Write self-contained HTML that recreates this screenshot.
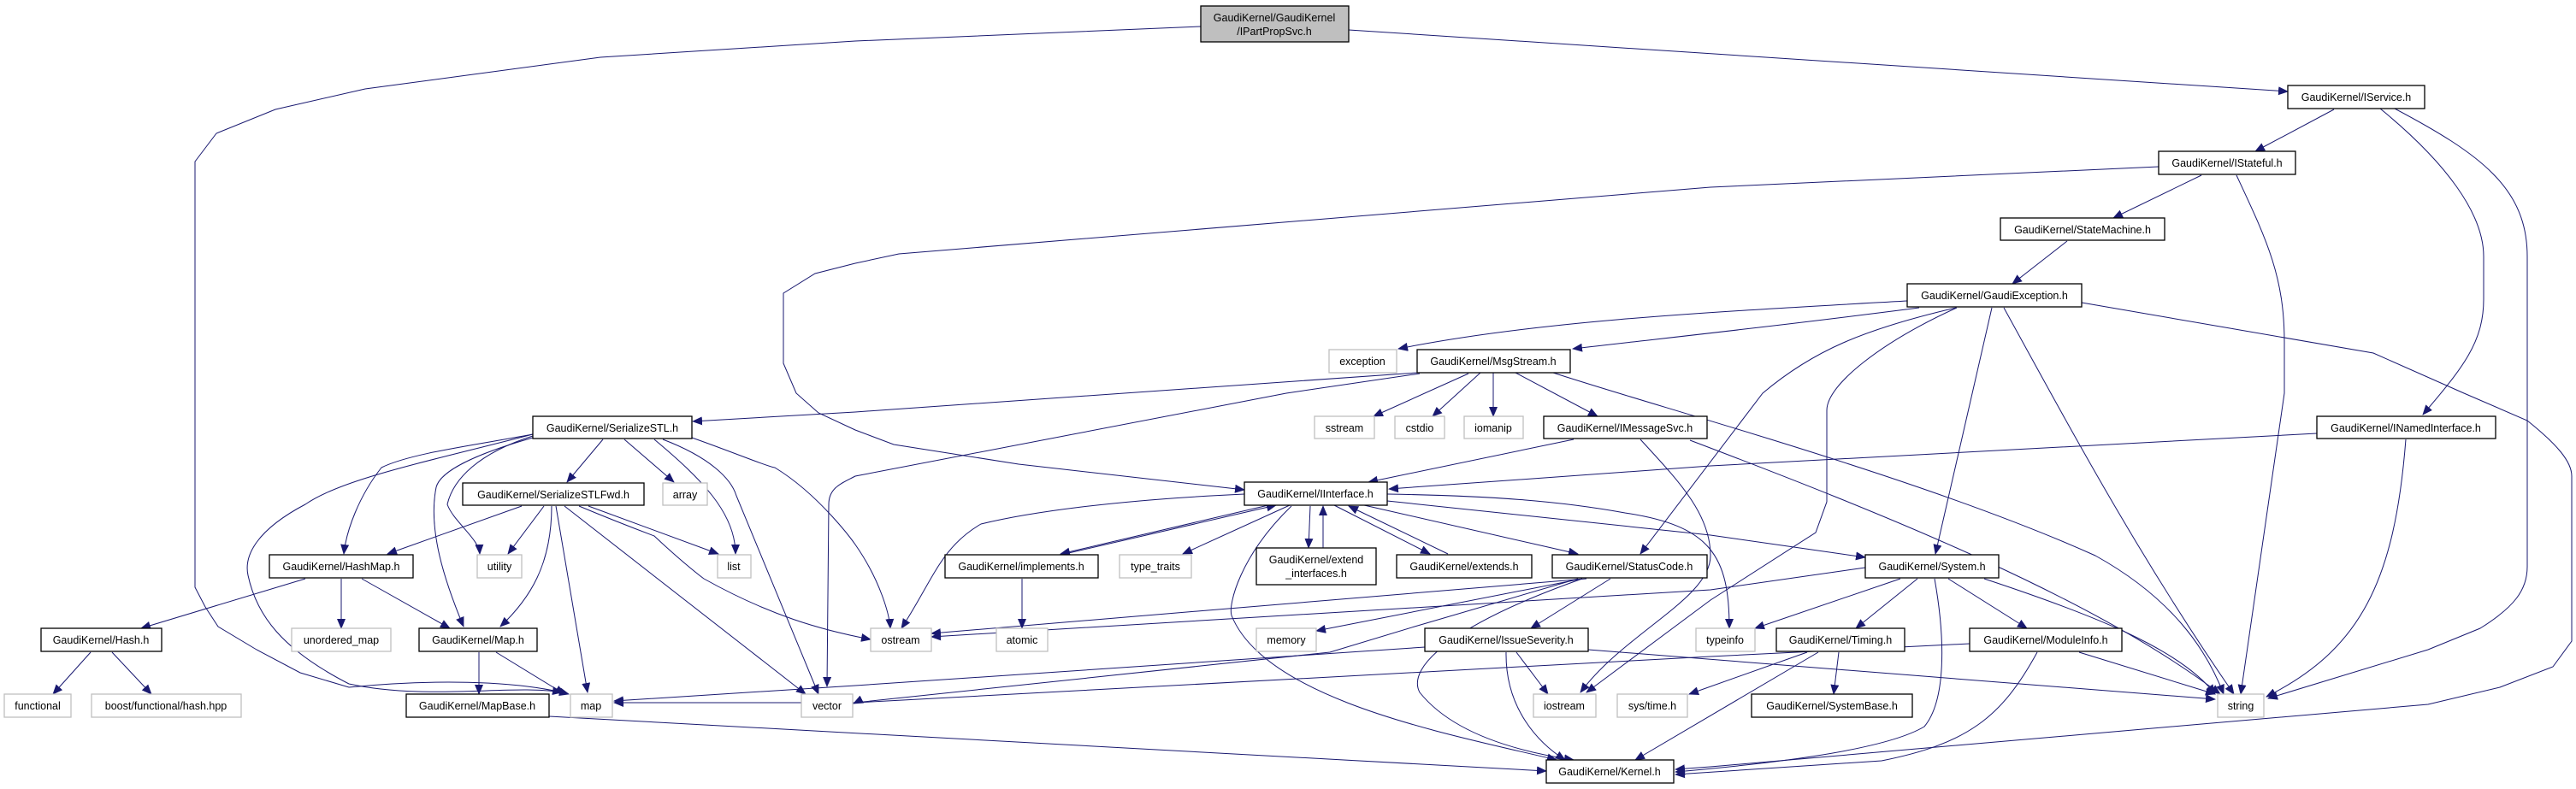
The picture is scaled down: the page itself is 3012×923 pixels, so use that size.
<!DOCTYPE html>
<html><head><meta charset="utf-8"><style>
html,body{margin:0;padding:0;background:#fff;}
svg{display:block;}
text{font-family:"Liberation Sans",sans-serif;font-size:12.5px;fill:#000;text-anchor:middle;}
.n{fill:#fff;stroke:#000;stroke-width:1.3;}
.g{fill:#fff;stroke:#bfbfbf;stroke-width:1.3;}
.e{fill:none;stroke:#191970;stroke-width:1;}
</style></head><body>
<svg width="3012" height="923" viewBox="0 0 3012 923" xmlns="http://www.w3.org/2000/svg">
<defs><marker id="a" markerWidth="12" markerHeight="10" refX="11" refY="5" orient="auto" markerUnits="userSpaceOnUse"><path d="M0,0 L12,5 L0,10 z" fill="#191970"/></marker></defs>
<g class="e" marker-end="url(#a)">
<!-- root -->
<path d="M1404,31 L1000,48 L702,67 L427,104 L322,128 L253,156 L228,189 L228,687 L240,710 L255,733 L300,760 L351,787 L408,804 C500,795 600,795 665,812"/>
<path d="M1577,35 L2675,107"/>
<!-- IService -->
<path d="M2729,128 L2637,177"/>
<path d="M2783,127 C2860,190 2904,250 2904,300 L2904,350 C2904,400 2880,430 2833,485"/>
<path d="M2800,127 C2900,180 2955,220 2955,300 L2955,663 C2955,690 2940,710 2900,735 L2839,760 L2652,817"/>
<!-- IStateful -->
<path d="M2574,205 L2471,255"/>
<path d="M2615,205 C2650,280 2671,323 2671,400 L2671,460 L2620,812"/>
<path d="M2524,195 L2000,219 L1051,297 L1000,308 L953,320 L916,343 L916,425 L931,460 L957,483 L1000,503 L1045,520 L1191,543 L1455,573"/>
<!-- StateMachine -->
<path d="M2417,282 L2353,332"/>
<!-- GaudiException -->
<path d="M2230,352 C2000,365 1800,375 1635,408"/>
<path d="M2244,360 C2050,385 1950,395 1839,408"/>
<path d="M2287,360 C2180,385 2120,410 2061,460 L1918,648"/>
<path d="M2288,360 C2200,400 2136,450 2136,480 L2136,587 L2123,623 L2000,702 L1855,810"/>
<path d="M2329,360 L2263,648"/>
<path d="M2343,360 C2420,500 2500,650 2612,812"/>
<path d="M2434,354 L2775,413 L2881,460 L2955,492 C2990,520 3007,540 3007,557 L3007,750 L2985,780 L2923,804 L2839,824 L2000,897 L1959,900"/>
<!-- MsgStream -->
<path d="M1657,436 L1000,482 L810,493"/>
<path d="M1660,437 L1504,460 L1000,557 C985,565 969,570 969,590 L967,803"/>
<path d="M1717,437 L1606,487"/>
<path d="M1731,436 L1675,487"/>
<path d="M1746,436 L1746,487"/>
<path d="M1772,436 L1868,487"/>
<path d="M1816,436 C1950,480 2250,560 2450,650 C2540,700 2580,760 2600,812"/>
<!-- IMessageSvc -->
<path d="M1840,514 L1600,564"/>
<path d="M1918,514 C1960,560 2000,600 2000,650 C2000,700 1900,740 1848,810"/>
<path d="M1976,515 C2200,600 2450,700 2596,812"/>
<!-- INamedInterface -->
<path d="M2709,507 L2000,545 L1624,572"/>
<path d="M2813,514 C2800,680 2760,760 2650,815"/>
<!-- SerializeSTL -->
<path d="M705,514 L663,564"/>
<path d="M730,514 L788,564"/>
<path d="M765,514 C820,560 860,600 860,648"/>
<path d="M775,514 C830,535 855,560 861,580 L957,812"/>
<path d="M809,512 C860,530 900,547 906,547 C960,580 1000,637 1000,637 C1030,680 1040,720 1041,735"/>
<path d="M623,508 C560,520 480,530 446,547 C420,580 405,620 402,648"/>
<path d="M623,510 C560,530 530,560 523,590 C530,610 560,630 561,648"/>
<path d="M623,512 C560,530 515,550 510,570 C500,620 520,680 542,733"/>
<path d="M623,508 C500,540 400,560 357,590 C300,620 285,650 290,673 C300,720 330,760 408,800 C500,820 600,800 657,810"/>
<!-- SerializeSTLFwd -->
<path d="M610,592 L453,648"/>
<path d="M636,592 L594,648"/>
<path d="M688,592 L840,648"/>
<path d="M645,592 C645,660 620,700 585,733"/>
<path d="M650,592 L687,810"/>
<path d="M660,592 L942,812"/>
<path d="M677,592 C720,610 765,627 765,627 C800,660 823,677 823,677 C900,720 960,737 1018,748"/>
<!-- HashMap / Hash / Map -->
<path d="M357,677 L165,735"/>
<path d="M399,677 L399,735"/>
<path d="M423,677 L526,735"/>
<path d="M106,763 L62,812"/>
<path d="M131,763 L177,812"/>
<path d="M560,763 L560,812"/>
<path d="M580,763 L660,812"/>
<path d="M642,838 L1808,902"/>
<!-- IInterface -->
<path d="M1455,578 C1300,585 1200,600 1147,613 C1100,640 1090,680 1054,735"/>
<path d="M1483,591 L1240,648"/>
<path d="M1245,648 L1492,591"/>
<path d="M1508,591 L1383,648"/>
<path d="M1532,592 L1530,641"/>
<path d="M1547,641 L1547,592"/>
<path d="M1560,591 L1672,648"/>
<path d="M1693,648 L1577,592"/>
<path d="M1595,591 L1845,648"/>
<path d="M1622,586 L2000,626 L2181,652"/>
<path d="M1622,578 C1750,580 1829,587 1900,600 C2000,615 2022,650 2022,735"/>
<path d="M1510,592 C1450,650 1436,707 1440,720 C1480,820 1700,860 1820,889"/>
<path d="M1195,677 L1195,735"/>
<!-- StatusCode -->
<path d="M1855,677 L1089,741"/>
<path d="M1850,677 L1539,738"/>
<path d="M1883,677 L1790,735"/>
<path d="M1845,677 L1654,733 L1555,763 L1000,822 L718,822"/>
<path d="M1850,677 C1700,730 1644,780 1660,810 C1700,860 1780,880 1840,889"/>
<!-- System -->
<path d="M2181,664 L2000,690 L1089,745"/>
<path d="M2222,677 L2052,735"/>
<path d="M2242,677 L2170,735"/>
<path d="M2278,677 L2370,735"/>
<path d="M2320,677 C2450,720 2550,760 2590,812"/>
<path d="M2262,677 C2275,750 2275,820 2250,850 C2200,880 2050,895 1959,903"/>
<!-- IssueSeverity -->
<path d="M1666,757 L1000,802 L718,820"/>
<path d="M1773,763 L1810,812"/>
<path d="M1761,763 C1760,830 1800,870 1830,889"/>
<path d="M1857,760 L2590,818"/>
<!-- Timing -->
<path d="M2113,763 L1975,812"/>
<path d="M2126,763 L1912,889"/>
<path d="M2150,763 L2144,812"/>
<!-- ModuleInfo -->
<path d="M2303,753 L2000,768 L1000,822 L998,823"/>
<path d="M2431,763 L2590,812"/>
<path d="M2382,763 C2340,840 2300,870 2200,890 L1959,906"/>
</g>
<!-- nodes -->
<rect x="1404" y="7" width="173" height="42" fill="#bfbfbf" stroke="#000" stroke-width="1.3"/>
<text x="1490" y="25">GaudiKernel/GaudiKernel</text><text x="1490" y="41">/IPartPropSvc.h</text>
<rect class="n" x="2675" y="100" width="160" height="27"/><text x="2755" y="118">GaudiKernel/IService.h</text>
<rect class="n" x="2524" y="177" width="160" height="27"/><text x="2604" y="195">GaudiKernel/IStateful.h</text>
<rect class="n" x="2339" y="255" width="192" height="26"/><text x="2435" y="273">GaudiKernel/StateMachine.h</text>
<rect class="n" x="2230" y="332" width="204" height="27"/><text x="2332" y="350">GaudiKernel/GaudiException.h</text>
<rect class="g" x="1554" y="409" width="79" height="27"/><text x="1593" y="427">exception</text>
<rect class="n" x="1657" y="409" width="179" height="27"/><text x="1746" y="427">GaudiKernel/MsgStream.h</text>
<rect class="n" x="623" y="487" width="186" height="26"/><text x="716" y="505">GaudiKernel/SerializeSTL.h</text>
<rect class="g" x="1537" y="487" width="70" height="26"/><text x="1572" y="505">sstream</text>
<rect class="g" x="1631" y="487" width="58" height="26"/><text x="1660" y="505">cstdio</text>
<rect class="g" x="1712" y="487" width="69" height="26"/><text x="1746" y="505">iomanip</text>
<rect class="n" x="1805" y="487" width="191" height="26"/><text x="1900" y="505">GaudiKernel/IMessageSvc.h</text>
<rect class="n" x="2709" y="487" width="209" height="26"/><text x="2813" y="505">GaudiKernel/INamedInterface.h</text>
<rect class="n" x="541" y="565" width="212" height="26"/><text x="647" y="583">GaudiKernel/SerializeSTLFwd.h</text>
<rect class="g" x="775" y="565" width="52" height="26"/><text x="801" y="583">array</text>
<rect class="n" x="1455" y="564" width="167" height="27"/><text x="1538" y="582">GaudiKernel/IInterface.h</text>
<rect class="n" x="315" y="649" width="168" height="27"/><text x="399" y="667">GaudiKernel/HashMap.h</text>
<rect class="g" x="558" y="649" width="52" height="27"/><text x="584" y="667">utility</text>
<rect class="g" x="839" y="649" width="39" height="27"/><text x="858" y="667">list</text>
<rect class="n" x="1105" y="649" width="179" height="27"/><text x="1194" y="667">GaudiKernel/implements.h</text>
<rect class="g" x="1309" y="649" width="84" height="27"/><text x="1351" y="667">type_traits</text>
<rect class="n" x="1469" y="641" width="140" height="43"/><text x="1539" y="659">GaudiKernel/extend</text><text x="1539" y="675">_interfaces.h</text>
<rect class="n" x="1633" y="649" width="158" height="27"/><text x="1712" y="667">GaudiKernel/extends.h</text>
<rect class="n" x="1815" y="649" width="181" height="27"/><text x="1905" y="667">GaudiKernel/StatusCode.h</text>
<rect class="n" x="2181" y="649" width="156" height="27"/><text x="2259" y="667">GaudiKernel/System.h</text>
<rect class="n" x="48" y="735" width="141" height="27"/><text x="118" y="753">GaudiKernel/Hash.h</text>
<rect class="g" x="341" y="735" width="116" height="27"/><text x="399" y="753">unordered_map</text>
<rect class="n" x="490" y="735" width="138" height="27"/><text x="559" y="753">GaudiKernel/Map.h</text>
<rect class="g" x="1018" y="735" width="71" height="27"/><text x="1053" y="753">ostream</text>
<rect class="g" x="1165" y="735" width="60" height="27"/><text x="1195" y="753">atomic</text>
<rect class="g" x="1469" y="735" width="70" height="27"/><text x="1504" y="753">memory</text>
<rect class="n" x="1666" y="735" width="191" height="27"/><text x="1761" y="753">GaudiKernel/IssueSeverity.h</text>
<rect class="g" x="1983" y="735" width="69" height="27"/><text x="2017" y="753">typeinfo</text>
<rect class="n" x="2077" y="735" width="150" height="27"/><text x="2152" y="753">GaudiKernel/Timing.h</text>
<rect class="n" x="2303" y="735" width="178" height="27"/><text x="2392" y="753">GaudiKernel/ModuleInfo.h</text>
<rect class="g" x="5" y="812" width="78" height="27"/><text x="44" y="830">functional</text>
<rect class="g" x="107" y="812" width="175" height="27"/><text x="194" y="830">boost/functional/hash.hpp</text>
<rect class="n" x="475" y="812" width="167" height="27"/><text x="558" y="830">GaudiKernel/MapBase.h</text>
<rect class="g" x="667" y="812" width="49" height="27"/><text x="691" y="830">map</text>
<rect class="g" x="937" y="812" width="60" height="27"/><text x="967" y="830">vector</text>
<rect class="g" x="1793" y="812" width="73" height="27"/><text x="1829" y="830">iostream</text>
<rect class="g" x="1891" y="812" width="82" height="27"/><text x="1932" y="830">sys/time.h</text>
<rect class="n" x="2048" y="812" width="188" height="27"/><text x="2142" y="830">GaudiKernel/SystemBase.h</text>
<rect class="g" x="2593" y="812" width="54" height="27"/><text x="2620" y="830">string</text>
<rect class="n" x="1808" y="889" width="149" height="27"/><text x="1882" y="907">GaudiKernel/Kernel.h</text>
</svg>
</body></html>
